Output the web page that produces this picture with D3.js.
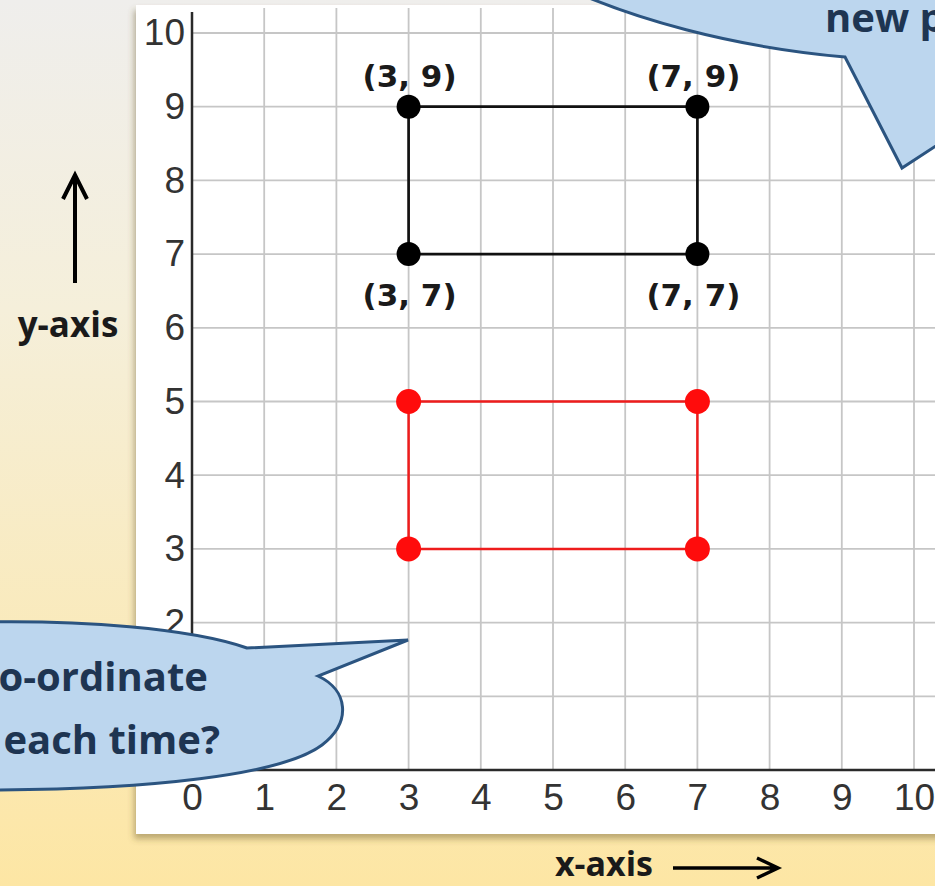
<!DOCTYPE html>
<html>
    <head>
        <style>
            body { margin: 0; overflow: hidden; }
            svg { display: block; }
        </style>
        <script src="https://d3js.org/d3.v7.min.js"></script>
    </head>
    <body>
        <svg id="plot" width="935" height="886"></svg>
        <script>
            // tick values on both axes
            const xTicks = [0, 1, 2, 3, 4, 5, 6, 7, 8, 9, 10];
            const yTicks = [0, 1, 2, 3, 4, 5, 6, 7, 8, 9, 10];

            // original rectangle (black) and moved rectangle (red)
            const blackPoints = [{x: 3, y: 9}, {x: 7, y: 9}, {x: 7, y: 7}, {x: 3, y: 7}];
            const redPoints = [{x: 3, y: 5}, {x: 7, y: 5}, {x: 7, y: 3}, {x: 3, y: 3}];

            // coordinate labels for the black corners
            const pointLabels = ["(3, 9)", "(7, 9)", "(7, 7)", "(3, 7)"];
            const labelAbove = [true, true, false, false];

            const svg = d3.select('#plot');

            // background gradient + panel shadow
            const defs = svg.append('defs');
            const grad = defs.append('linearGradient')
                .attr('id', 'bg').attr('x1', 0).attr('y1', 0).attr('x2', 0).attr('y2', 1);
            grad.append('stop').attr('offset', '0%').attr('stop-color', '#efeeec');
            grad.append('stop').attr('offset', '35%').attr('stop-color', '#f5efda');
            grad.append('stop').attr('offset', '100%').attr('stop-color', '#fde6a4');

            const shadow = defs.append('filter').attr('id', 'shadow')
                .attr('x', '-5%').attr('y', '-5%').attr('width', '110%').attr('height', '110%');
            shadow.append('feDropShadow')
                .attr('dx', -2).attr('dy', 5).attr('stdDeviation', 3)
                .attr('flood-color', '#6b5a2a').attr('flood-opacity', 0.45);

            svg.append('rect')
                .attr('width', 935).attr('height', 886)
                .attr('fill', 'url(#bg)');

            svg.append('rect')
                .attr('x', 136).attr('y', 5)
                .attr('width', 830).attr('height', 829)
                .attr('fill', '#ffffff')
                .attr('filter', 'url(#shadow)');

            // scales
            const xScale = d3.scaleLinear().domain([0, 10]).range([192, 914]);
            const yScale = d3.scaleLinear().domain([0, 10]).range([770, 33]);

            // grid
            svg.append('g')
                .selectAll('line')
                .data(xTicks.slice(1))
                .enter()
                .append('line')
                .attr('x1', d => xScale(d)).attr('x2', d => xScale(d))
                .attr('y1', 8).attr('y2', yScale(0))
                .attr('stroke', '#c6c6c6').attr('stroke-width', 1.8);

            svg.append('g')
                .selectAll('line')
                .data(yTicks.slice(1))
                .enter()
                .append('line')
                .attr('x1', xScale(0)).attr('x2', 935)
                .attr('y1', d => yScale(d)).attr('y2', d => yScale(d))
                .attr('stroke', '#c6c6c6').attr('stroke-width', 1.8);

            // axes
            const xAxis = svg.append('g')
                .attr('transform', `translate(0, ${yScale(0)})`)
                .call(d3.axisBottom(xScale).tickValues(xTicks).tickSize(0).tickPadding(14));
            xAxis.select('.domain').remove();
            xAxis.append('line')
                .attr('x1', xScale(0)).attr('x2', 935)
                .attr('stroke', '#2a2a2a').attr('stroke-width', 2.5);
            xAxis.selectAll('text')
                .attr('dy', '0.71em')
                .style('font-family', '"Liberation Sans", Arial, sans-serif')
                .style('font-size', '37px')
                .style('fill', '#333');

            const yAxis = svg.append('g')
                .attr('transform', `translate(${xScale(0)}, 0)`)
                .call(d3.axisLeft(yScale).tickValues(yTicks.slice(2)).tickSize(0).tickPadding(7));
            yAxis.select('.domain').remove();
            yAxis.append('line')
                .attr('y1', 12).attr('y2', yScale(0))
                .attr('stroke', '#2a2a2a').attr('stroke-width', 2.5);
            yAxis.selectAll('text')
                .style('font-family', '"Liberation Sans", Arial, sans-serif')
                .style('font-size', '37px')
                .style('fill', '#333');

            // rectangles
            const line = d3.line()
                .x(d => xScale(d.x))
                .y(d => yScale(d.y))
                .curve(d3.curveLinearClosed);

            svg.append('path')
                .attr('d', line(blackPoints))
                .attr('fill', 'none').attr('stroke', '#111').attr('stroke-width', 2.7);

            svg.append('path')
                .attr('d', line(redPoints))
                .attr('fill', 'none').attr('stroke', '#ee1c1c').attr('stroke-width', 2.5);

            svg.append('g')
                .selectAll('circle')
                .data(blackPoints)
                .enter()
                .append('circle')
                .attr('cx', d => xScale(d.x))
                .attr('cy', d => yScale(d.y))
                .attr('r', 12)
                .style('fill', '#000');

            svg.append('g')
                .selectAll('circle')
                .data(redPoints)
                .enter()
                .append('circle')
                .attr('cx', d => xScale(d.x))
                .attr('cy', d => yScale(d.y))
                .attr('r', 12.5)
                .style('fill', '#ff0c0c');

            svg.append('g')
                .selectAll('text')
                .data(blackPoints)
                .enter()
                .append('text')
                .attr('x', (d, i) => xScale(d.x) + (d.x > 5 ? -4 : 1))
                .attr('y', (d, i) => yScale(d.y) + (labelAbove[i] ? -20 : 52))
                .attr('text-anchor', 'middle')
                .style('font-family', '"DejaVu Sans", Verdana, sans-serif')
                .style('font-weight', 'bold')
                .style('font-size', '31px')
                .style('fill', '#1a1a1a')
                .text((d, i) => pointLabels[i]);

            // axis titles + arrows
            svg.append('text')
                .attr('x', 68).attr('y', 337)
                .attr('text-anchor', 'middle')
                .style('font-family', '"Open Sans", sans-serif')
                .style('font-weight', 'bold')
                .style('font-size', '35px')
                .style('fill', '#1a1a1a')
                .text('y-axis');

            svg.append('text')
                .attr('x', 604).attr('y', 876)
                .attr('text-anchor', 'middle')
                .style('font-family', '"Open Sans", sans-serif')
                .style('font-weight', 'bold')
                .style('font-size', '34px')
                .style('fill', '#1a1a1a')
                .text('x-axis');

            svg.append('path')
                .attr('d', 'M75,283 L75,177 M63,199 L75,175 L87,199')
                .attr('fill', 'none').attr('stroke', '#000').attr('stroke-width', 4);

            svg.append('path')
                .attr('d', 'M673,868 L777,868 M757,858 L778,868 L757,878')
                .attr('fill', 'none').attr('stroke', '#000').attr('stroke-width', 3.5);

            // speech bubbles
            svg.append('path')
                .attr('d', 'M-20,622 C80,620 190,628 247,648 L408,640 L318,676 C348,690 352,722 322,745 C282,775 150,790 -20,790 Z')
                .attr('fill', '#bcd6ee').attr('stroke', '#2b5480').attr('stroke-width', 3);

            svg.append('path')
                .attr('d', 'M582,-5 C632,16 722,46 845,57 L902,168 L945,140 L945,-5 Z')
                .attr('fill', '#bcd6ee').attr('stroke', '#2b5480').attr('stroke-width', 3);

            const bubbleText = svg.append('g')
                .style('font-family', '"Open Sans", sans-serif')
                .style('font-weight', 'bold')
                .style('font-size', '40px')
                .style('fill', '#1e3552');

            bubbleText.append('text').attr('x', 208).attr('y', 691).attr('text-anchor', 'end').text('o-ordinate');
            bubbleText.append('text').attr('x', 220).attr('y', 754).attr('text-anchor', 'end').text('each time?');
            bubbleText.append('text').attr('x', 825).attr('y', 32).text('new p');
        </script>
    </body>
</html>
